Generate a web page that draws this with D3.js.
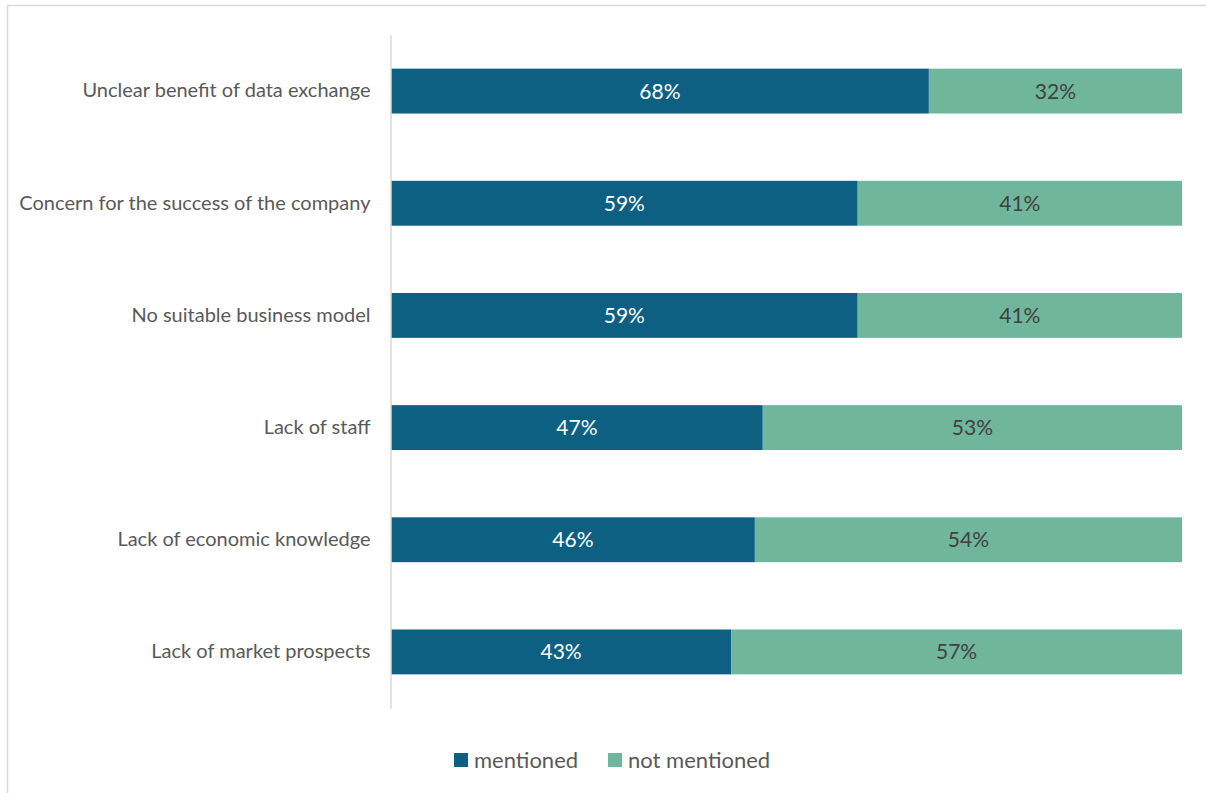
<!DOCTYPE html>
<html>
<head>
<meta charset="utf-8">
<script src="https://cdn.jsdelivr.net/npm/d3@7"></script>
<style>
  html, body { margin: 0; padding: 0; background: #fff; }
  svg { display: block; font-family: Lato, "Open Sans", sans-serif; }
</style>
</head>
<body>
<svg id="chart" width="1206" height="793"></svg>
<script>
// Obstacles to data exchange, share of respondents
const categories = [
  "Unclear benefit of data exchange",
  "Concern for the success of the company",
  "No suitable business model",
  "Lack of staff",
  "Lack of economic knowledge",
  "Lack of market prospects"
];
const mentioned = [68, 59, 59, 47, 46, 43];
const notMentioned = [32, 41, 41, 53, 54, 57];
const seriesNames = ["mentioned", "not mentioned"];
const seriesColors = ["#0e6082", "#70b69c"];
const labelColors = ["#ffffff", "#404040"];

const svg = d3.select("#chart");

// outer chart frame
svg.append("rect")
  .attr("x", 7.5).attr("y", 5.5)
  .attr("width", 1206).attr("height", 800)
  .attr("fill", "none").attr("stroke", "#d9d9d9").attr("stroke-width", 1.5);

const plot = { left: 391, right: 1182, top: 35, bottom: 708 };

const x = d3.scaleLinear().domain([0, 100]).range([plot.left, plot.right]);
const y = d3.scaleBand().domain(categories).range([plot.top, plot.bottom]).paddingInner(0.6).paddingOuter(0.3);

const rows = categories.map((c, i) => ({ cat: c, vals: [mentioned[i], notMentioned[i]] }));
const stacked = d3.stack().keys([0, 1]).value((d, k) => d.vals[k])(rows);

const g = svg.append("g");
stacked.forEach((layer, k) => {
  const lg = g.append("g");
  lg.selectAll("rect").data(layer).join("rect")
    .attr("x", d => x(d[0]))
    .attr("y", d => y(d.data.cat))
    .attr("width", d => x(d[1]) - x(d[0]))
    .attr("height", y.bandwidth())
    .attr("fill", seriesColors[k]);
  lg.selectAll("text").data(layer).join("text")
    .attr("x", d => (x(d[0]) + x(d[1])) / 2)
    .attr("y", d => y(d.data.cat) + y.bandwidth() / 2)
    .attr("dy", "0.36em")
    .attr("text-anchor", "middle")
    .attr("font-size", 21)
    .attr("fill", labelColors[k])
    .text(d => (d[1] - d[0]) + "%");
});

// category axis
const yAxis = d3.axisLeft(y).tickSize(0).tickPadding(20);
const ag = svg.append("g").attr("transform", `translate(${plot.left - 0.5},0)`).call(yAxis);
ag.select(".domain").attr("stroke", "#d9d9d9").attr("stroke-width", 1.5);
ag.selectAll("text")
  .attr("font-family", "Lato, 'Open Sans', sans-serif")
  .attr("font-size", 20)
  .attr("fill", "#595959");

// legend
const legend = svg.append("g").attr("transform", "translate(454,753)");
const offsets = [0, 154];
seriesNames.forEach((name, k) => {
  const item = legend.append("g").attr("transform", `translate(${offsets[k]},0)`);
  item.append("rect").attr("width", 14).attr("height", 14).attr("fill", seriesColors[k]);
  item.append("text").attr("x", 20).attr("y", 7).attr("dy", "0.36em")
    .attr("font-size", 22).attr("fill", "#595959").text(name);
});
</script>
</body>
</html>
